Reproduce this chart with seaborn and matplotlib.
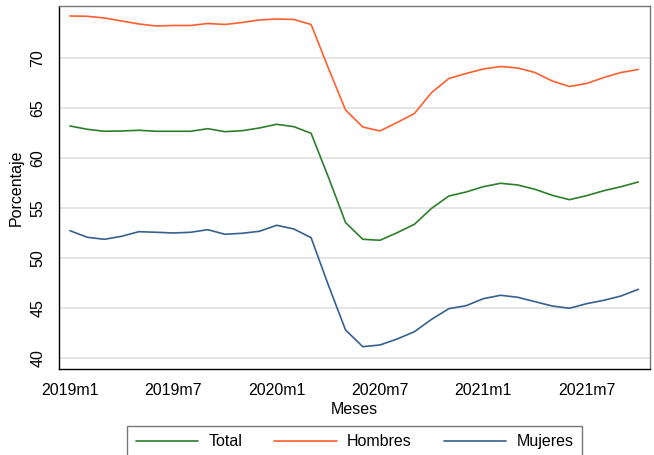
import pandas as pd
import matplotlib
import seaborn as sns
matplotlib.use("Agg")
import matplotlib.pyplot as plt

# tasa de ocupacion mensual, 2019m1 - 2021m10
meses = ["2019m1", "2019m7", "2020m1", "2020m7", "2021m1", "2021m7"]
tick_pos = [0, 6, 12, 18, 24, 30]

total = [63.2, 62.87, 62.67, 62.7, 62.77, 62.67, 62.67, 62.67, 62.93, 62.63,
         62.73, 63.0, 63.37, 63.13, 62.47, 58.1, 53.55, 51.87, 51.77, 52.53,
         53.37, 54.97, 56.2, 56.6, 57.13, 57.47, 57.3, 56.87, 56.27, 55.83,
         56.23, 56.73, 57.13, 57.6]
hombres = [74.2, 74.17, 74.0, 73.7, 73.4, 73.2, 73.25, 73.25, 73.45, 73.35,
           73.55, 73.8, 73.9, 73.85, 73.35, 69.0, 64.8, 63.1, 62.7, 63.55,
           64.45, 66.55, 67.95, 68.45, 68.9, 69.15, 69.0, 68.55, 67.7, 67.15,
           67.45, 68.05, 68.55, 68.85]
mujeres = [52.73, 52.07, 51.87, 52.17, 52.63, 52.57, 52.5, 52.57, 52.83, 52.37,
           52.47, 52.67, 53.27, 52.9, 52.03, 47.3, 42.8, 41.13, 41.3, 41.9,
           42.63, 43.87, 44.93, 45.23, 45.93, 46.27, 46.07, 45.63, 45.2, 44.97,
           45.43, 45.77, 46.2, 46.87]

n = len(total)
df = pd.DataFrame({
    "mes": list(range(n)) * 3,
    "valor": total + hombres + mujeres,
    "serie": ["Total"] * n + ["Hombres"] * n + ["Mujeres"] * n,
})
palette = {"Total": "#2b7f2b", "Hombres": "#ff5f2e", "Mujeres": "#36608f"}

sns.set_style("white")
plt.rcParams["font.family"] = ["Liberation Sans", "DejaVu Sans"]
plt.rcParams["text.color"] = "black"
plt.rcParams["axes.labelcolor"] = "black"
plt.rcParams["xtick.color"] = "black"
plt.rcParams["ytick.color"] = "black"

fig = plt.figure(figsize=(6.54, 4.55), dpi=100)
ax = fig.add_axes([0.0907, 0.1884, 0.9032, 0.7991])
sns.lineplot(data=df, x="mes", y="valor", hue="serie", palette=palette,
             linewidth=1.2, ax=ax, legend=False)

ax.set_xlim(-0.62, 33.68)
ax.set_ylim(38.87, 75.23)
ax.set_xticks(tick_pos)
ax.set_xticklabels(meses)
ax.set_yticks([40, 45, 50, 55, 60, 65, 70])
ax.tick_params(axis="both", direction="out", length=5, width=0.9,
               color="#333333", labelcolor="black", labelsize=11.5, pad=5)
plt.setp(ax.get_yticklabels(), rotation=90, va="center")
ax.yaxis.grid(True, color="#e3e3e3", linewidth=1.3)
ax.xaxis.grid(False)
for side in ["left", "bottom"]:
    ax.spines[side].set_color("black")
    ax.spines[side].set_linewidth(1.0)
for side in ["top", "right"]:
    ax.spines[side].set_color("#777777")
    ax.spines[side].set_linewidth(1.0)
ax.set_xlabel("Meses", fontsize=11.5, labelpad=3)
ax.set_ylabel("Porcentaje", fontsize=11.5, labelpad=5)

handles = [plt.Line2D([], [], color=palette[k], linewidth=1.2)
           for k in ["Total", "Hombres", "Mujeres"]]
leg = fig.legend(handles, ["Total", "Hombres", "Mujeres"], ncol=3,
                 loc="upper center", bbox_to_anchor=(354.5 / 654, 1 - 425.7 / 455),
                 fontsize=11.5, frameon=True, fancybox=False, handlelength=3.9,
                 handletextpad=0.65, columnspacing=2.0, borderpad=0.55,
                 borderaxespad=0)
leg.get_frame().set_edgecolor("#555555")
leg.get_frame().set_linewidth(1.0)

plt.savefig("out.png", dpi=100)
